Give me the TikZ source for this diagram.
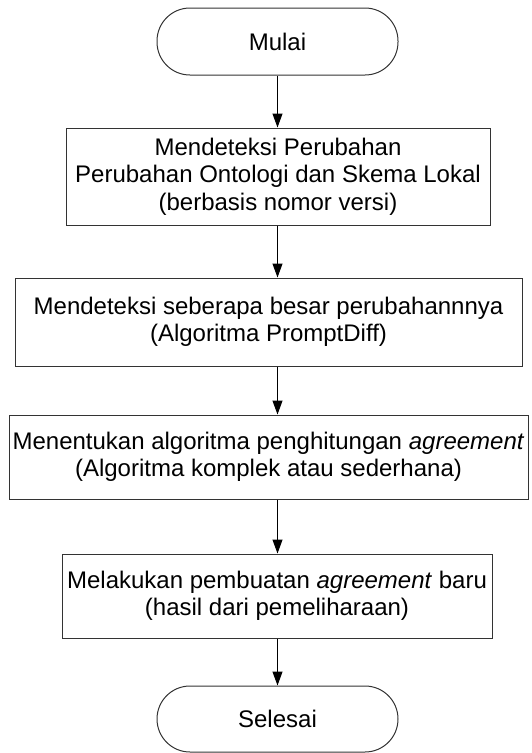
\documentclass[tikz,border=0pt]{standalone}
\usepackage{fontspec}
\setmainfont{Liberation Sans}
\usetikzlibrary{arrows.meta}
\begin{document}
\begin{tikzpicture}[x=1pt,y=-1pt,
  every node/.style={font=\fontsize{24}{27.5}\selectfont, text=black, align=center, inner sep=0pt},
  procbox/.style={draw=black!80, line width=1pt, fill=white, rectangle},
  terminal/.style={draw=black!80, line width=1pt, fill=white, rectangle,
    rounded corners=33pt, minimum width=241pt, minimum height=67pt},
  flow/.style={draw=black, line width=1pt, -{Triangle[length=14pt,width=10pt]}}]
  \useasboundingbox (0,0) rectangle (531,753);
  \coordinate (axis) at (277.5,0);

  \node[terminal] (start) at (277.5,41.5) {Mulai};
  \node[procbox, minimum width=424pt, minimum height=97pt] (b1) at (278,176.5)
    {Mendeteksi Perubahan\\Perubahan Ontologi dan Skema Lokal\\(berbasis nomor versi)};
  \node[procbox, minimum width=507pt, minimum height=88pt] (b2) at (268.5,322)
    {Mendeteksi seberapa besar perubahannnya\\(Algoritma PromptDiff)};
  \node[procbox, minimum width=519pt, minimum height=84pt] (b3) at (268.5,457)
    {Menentukan algoritma penghitungan \textit{agreement}\\(Algoritma komplek atau sederhana)};
  \node[procbox, minimum width=430pt, minimum height=84pt] (b4) at (277,596)
    {Melakukan pembuatan \textit{agreement} baru\\(hasil dari pemeliharaan)};
  \node[terminal, minimum height=66pt] (end) at (277.5,719) {Selesai};

  \draw[flow] (start.south -| axis) -- (b1.north -| axis);
  \draw[flow] (b1.south -| axis) -- (b2.north -| axis);
  \draw[flow] (b2.south -| axis) -- (b3.north -| axis);
  \draw[flow] (b3.south -| axis) -- (b4.north -| axis);
  \draw[flow] (b4.south -| axis) -- (end.north -| axis);
\end{tikzpicture}
\end{document}
